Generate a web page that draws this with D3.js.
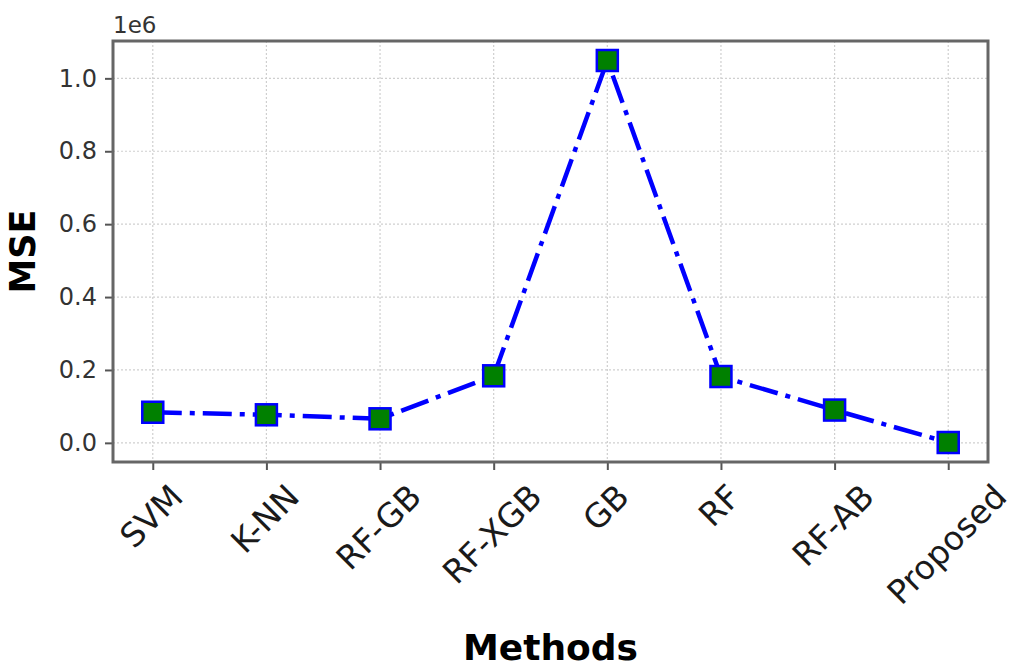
<!DOCTYPE html>
<html>
<head>
<meta charset="utf-8">
<script src="https://cdn.jsdelivr.net/npm/d3@7"></script>
<style>
  html, body { margin: 0; padding: 0; background: #fff; }
  svg { display: block; }
  text { font-family: "DejaVu Sans", sans-serif; }
</style>
</head>
<body>
<svg id="chart" width="1014" height="667"></svg>
<script>
const methods = ["SVM", "K-NN", "RF-GB", "RF-XGB", "GB", "RF", "RF-AB", "Proposed"];
const mseValues = [84000, 77000, 66000, 184000, 1049000, 182000, 90000, 1000];
const yTicks = [0, 200000, 400000, 600000, 800000, 1000000];
const yTickLabels = ["0.0", "0.2", "0.4", "0.6", "0.8", "1.0"];

const W = 1014, H = 667;
const m = { left: 113, right: 988, top: 41, bottom: 462 };
const svg = d3.select("#chart");

const x = d3.scaleLinear().domain([-0.35, methods.length - 1 + 0.35]).range([m.left, m.right]);
const y = d3.scaleLinear().domain([-52500, 1102500]).range([m.bottom, m.top]);

// grid
const grid = svg.append("g");
grid.selectAll("line.gx").data(methods).join("line")
  .attr("x1", (d, i) => x(i)).attr("x2", (d, i) => x(i))
  .attr("y1", m.top).attr("y2", m.bottom)
  .attr("stroke", "#cfcfcf").attr("stroke-width", 1.2).attr("stroke-dasharray", "2,2");
grid.selectAll("line.gy").data(yTicks).join("line")
  .attr("x1", m.left).attr("x2", m.right)
  .attr("y1", d => y(d)).attr("y2", d => y(d))
  .attr("stroke", "#cfcfcf").attr("stroke-width", 1.2).attr("stroke-dasharray", "2,2");

// y axis
const yAxis = d3.axisLeft(y).tickValues(yTicks).tickFormat((d, i) => yTickLabels[i]).tickSize(8).tickPadding(8);
const gy = svg.append("g").attr("transform", `translate(${m.left},0)`).call(yAxis);
gy.select(".domain").remove();
gy.selectAll(".tick line").attr("stroke", "#555").attr("stroke-width", 2);
gy.selectAll(".tick text").attr("font-size", 24).attr("fill", "#333")
  .attr("font-family", "DejaVu Sans, sans-serif");

// x axis
const fsx = 33;
const xAxis = d3.axisBottom(x).tickValues(d3.range(methods.length)).tickFormat(i => methods[i]).tickSize(8).tickPadding(8);
const gx = svg.append("g").attr("transform", `translate(0,${m.bottom})`).call(xAxis);
gx.select(".domain").remove();
gx.selectAll(".tick line").attr("stroke", "#555").attr("stroke-width", 2);
gx.selectAll(".tick text").each(function(d) {
  const t = d3.select(this);
  t.attr("font-size", fsx).attr("fill", "#1a1a1a").attr("font-family", "DejaVu Sans, sans-serif")
   .attr("text-anchor", "middle").attr("dy", null).attr("dominant-baseline", "central");
  const L = this.getComputedTextLength();
  const h = fsx * 0.74;
  const bh = 0.7071 * (L + h);
  const cy = 20 + bh / 2;
  t.attr("y", null).attr("x", null)
   .attr("transform", `translate(-2,${cy}) rotate(-45)`);
});

// frame
svg.append("rect")
  .attr("x", m.left).attr("y", m.top)
  .attr("width", m.right - m.left).attr("height", m.bottom - m.top)
  .attr("fill", "none").attr("stroke", "#666").attr("stroke-width", 3);

// line
const line = d3.line().x((d, i) => x(i)).y(d => y(d));
svg.append("path").datum(mseValues)
  .attr("d", line).attr("fill", "none")
  .attr("stroke", "#0000ff").attr("stroke-width", 4.5)
  .attr("stroke-dasharray", "29,8,5,8");

// markers
const ms = 21;
svg.selectAll("rect.mk").data(mseValues).join("rect")
  .attr("class", "mk")
  .attr("x", (d, i) => x(i) - ms / 2).attr("y", d => y(d) - ms / 2)
  .attr("width", ms).attr("height", ms)
  .attr("fill", "#008000").attr("stroke", "#0000ff").attr("stroke-width", 2.5);

// offset text
svg.append("text").attr("x", m.left).attr("y", 33)
  .attr("font-size", 23).attr("fill", "#333").text("1e6");

// axis titles
svg.append("text").attr("x", (m.left + m.right) / 2).attr("y", 660)
  .attr("text-anchor", "middle").attr("font-size", 36).attr("font-weight", "bold")
  .attr("fill", "#000").text("Methods");
svg.append("text").attr("transform", `translate(35,${(m.top + m.bottom) / 2}) rotate(-90)`)
  .attr("text-anchor", "middle").attr("font-size", 35).attr("font-weight", "bold")
  .attr("fill", "#000").text("MSE");
</script>
</body>
</html>
